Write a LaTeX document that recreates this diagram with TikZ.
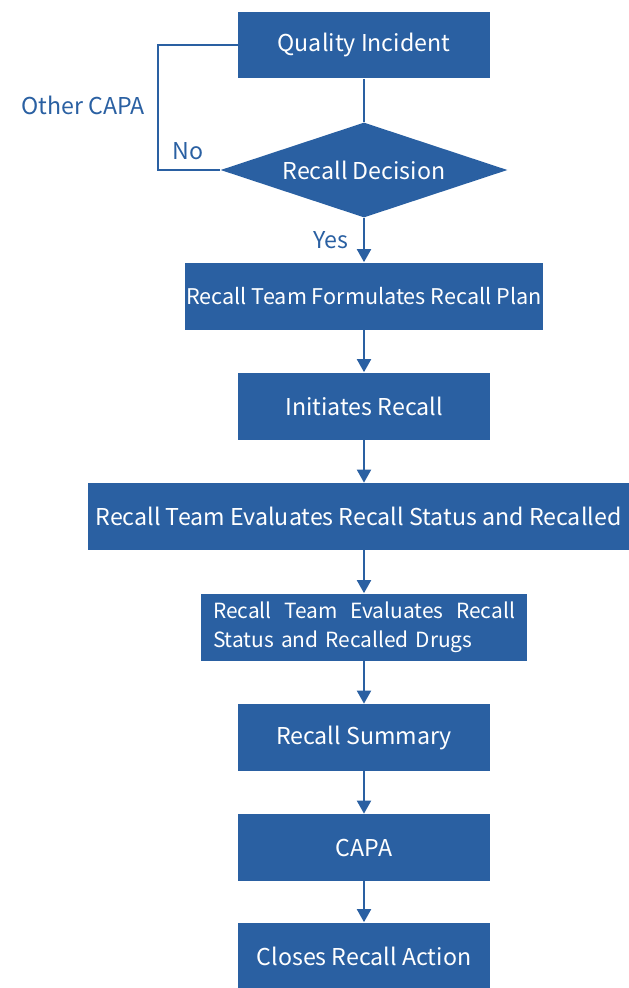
\documentclass[tikz,border=0pt]{standalone}
\usepackage{fontspec}
\setmainfont{Noto Sans CJK SC}
\usetikzlibrary{arrows.meta,shapes.geometric}
\definecolor{recall}{HTML}{2A60A2}
\tikzset{
  stepbox/.style={fill=recall,text=white,inner sep=0pt,minimum height=1.34cm,font=\fontsize{13.2}{16.5}\selectfont},
  flow/.style={recall,line width=1.1pt,-{Triangle[length=2.6mm,width=2.8mm]}},
  note/.style={text=recall,font=\fontsize{13.2}{16.5}\selectfont}
}
\begin{document}
\begin{tikzpicture}[x=0.02cm,y=-0.02cm]
  \useasboundingbox (0,0) rectangle (629,988);

  % main column
  \node[stepbox,minimum width=5.04cm] (incident) at (364,45) {Quality Incident};
  \node[stepbox,diamond,aspect=3,minimum width=5.74cm,minimum height=1.9cm] (decision) at (364,170) {Recall Decision};
  \node[stepbox,minimum width=7.16cm,font=\fontsize{12.3}{16.5}\selectfont] (plan) at (364,296) {Recall Team Formulates Recall Plan};
  \node[stepbox,minimum width=5.04cm] (initiate) at (364,406) {Initiates Recall};
  \node[stepbox,minimum width=10.82cm] (evalwide) at (358.5,516.5) {Recall Team Evaluates Recall Status and Recalled};
  \node[stepbox,minimum width=6.54cm,text width=6.04cm,align=left,font=\fontsize{11.9}{16.5}\selectfont] (evaldrugs) at (364,627) {\hbox to 6.04cm{Recall\hfill Team\hfill Evaluates\hfill Recall}\\Status and Recalled Drugs};
  \node[stepbox,minimum width=5.04cm] (summary) at (364,737.5) {Recall Summary};
  \node[stepbox,minimum width=5.04cm] (capa) at (364,847.5) {CAPA};
  \node[stepbox,minimum width=5.04cm] (closes) at (364,956) {Closes Recall Action};

  % arrows down the column
  \draw[recall,line width=1.1pt] (incident) -- (decision);
  \draw[flow] (decision) -- (plan);
  \draw[flow] (plan) -- (initiate);
  \draw[flow] (initiate) -- (evalwide.north -| initiate.south);
  \draw[flow] (evalwide.south -| evaldrugs.north) -- (evaldrugs);
  \draw[flow] (evaldrugs) -- (summary);
  \draw[flow] (summary) -- (capa);
  \draw[flow] (capa) -- (closes);

  % the No branch
  \draw[recall,line width=1.1pt] (incident.west) -- ++(-80,0) |- (decision.west);
  \node[note] (other) at (83,105) {Other CAPA};
  \node[note] (no) at (188,151) {No};
  \node[note] (yes) at (331,240) {Yes};
\end{tikzpicture}
\end{document}
